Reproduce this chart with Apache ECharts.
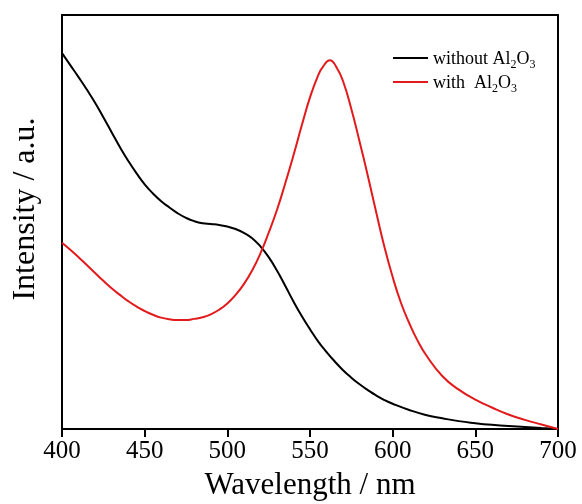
<!DOCTYPE html>
<html>
<head>
<meta charset="utf-8">
<script src="https://cdn.jsdelivr.net/npm/echarts@6/dist/echarts.min.js"></script>
<style>html,body{margin:0;padding:0;background:#fff}#c{width:582px;height:504px}</style>
</head>
<body>
<div id="c"></div>
<script>
const wavelengthsBlack = [400,405,410,415,420,425,430,435,440,445,450,455,460,465,470,475,480,485,490,495,500,505,510,515,520,525,530,535,540,545,550,555,560,565,570,575,580,585,590,595,600,610,620,630,640,650,660,670,680,690,700];
const withoutAl2O3 = [0.908,0.879,0.850,0.820,0.788,0.753,0.717,0.681,0.648,0.618,0.591,0.569,0.550,0.535,0.521,0.510,0.502,0.497,0.495,0.493,0.489,0.483,0.474,0.461,0.441,0.415,0.383,0.346,0.308,0.273,0.241,0.211,0.186,0.163,0.142,0.124,0.108,0.094,0.081,0.070,0.061,0.046,0.034,0.026,0.019,0.014,0.010,0.007,0.005,0.0025,0.000];
const wavelengthsRed = [400,405,410,415,420,425,430,435,440,445,450,455,460,465,470,475,480,485,490,495,500,505,510,515,520,525,530,535,540,545,550,555,558,562,566,570,575,580,585,590,595,600,605,610,615,620,630,640,650,660,670,680,690,700];
const withAl2O3 = [0.450,0.433,0.415,0.396,0.377,0.358,0.340,0.324,0.309,0.296,0.285,0.276,0.269,0.265,0.263,0.263,0.266,0.270,0.277,0.288,0.303,0.324,0.350,0.383,0.424,0.474,0.529,0.593,0.661,0.733,0.801,0.855,0.876,0.891,0.874,0.840,0.773,0.694,0.611,0.524,0.440,0.367,0.305,0.256,0.214,0.180,0.128,0.095,0.071,0.052,0.035,0.022,0.011,0.000];
const xTicks = {min: 400, max: 700, interval: 50};
const seriesNames = ['without Al2O3', 'with  Al2O3'];

const FONT = '"Liberation Serif", "Times New Roman", serif';
const chart = echarts.init(document.getElementById('c'), null, {renderer: 'canvas'});
chart.setOption({
  animation: false,
  backgroundColor: '#fff',
  grid: {left: 62, right: 24, top: 15, bottom: 75, show: true, borderColor: '#000', borderWidth: 2, containLabel: false, outerBoundsMode: 'none'},
  legend: {
    orient: 'vertical', left: 388, top: 45, itemWidth: 35, itemHeight: 2, itemGap: 3,
    icon: 'rect',
    data: seriesNames,
    formatter: function (n) {
      if (n === seriesNames[0]) return '{a|without Al}{s|2}{a|O}{s|3}';
      return '{a|with  Al}{s|2}{a|O}{s|3}';
    },
    textStyle: {
      color: '#000', fontFamily: FONT, fontSize: 18,
      rich: {
        a: {fontFamily: FONT, fontSize: 18, color: '#000', verticalAlign: 'bottom', lineHeight: 20},
        s: {fontFamily: FONT, fontSize: 12, color: '#000', verticalAlign: 'bottom', lineHeight: 15, padding: [0,0,-3,0]}
      }
    }
  },
  xAxis: {
    type: 'value', min: xTicks.min, max: xTicks.max, interval: xTicks.interval,
    name: 'Wavelength / nm', nameLocation: 'middle', nameGap: 41,
    nameTextStyle: {fontFamily: FONT, fontSize: 31, color: '#000'},
    axisLine: {show: true, onZero: false, lineStyle: {color: '#000', width: 2}},
    axisTick: {show: true, inside: false, length: 8, lineStyle: {color: '#000', width: 2}},
    axisLabel: {fontFamily: FONT, fontSize: 25, color: '#000', margin: 10},
    splitLine: {show: false}
  },
  yAxis: {
    type: 'value', min: 0, max: 1,
    name: 'Intensity / a.u.', nameLocation: 'middle', nameGap: 20,
    nameTextStyle: {fontFamily: FONT, fontSize: 32, color: '#000', padding: [0, 0, 0, 26]},
    axisLine: {show: true, lineStyle: {color: '#000', width: 2}},
    axisTick: {show: false}, axisLabel: {show: false}, splitLine: {show: false}
  },
  series: [
    {name: seriesNames[0], type: 'line', symbol: 'none', smooth: 0.5, lineStyle: {color: '#000', width: 2}, itemStyle: {color: '#000'},
     data: wavelengthsBlack.map((x, i) => [x, withoutAl2O3[i]])},
    {name: seriesNames[1], type: 'line', symbol: 'none', smooth: 0.5, lineStyle: {color: '#e31a1c', width: 2}, itemStyle: {color: '#e31a1c'},
     data: wavelengthsRed.map((x, i) => [x, withAl2O3[i]])}
  ]
});
</script>
</body>
</html>
